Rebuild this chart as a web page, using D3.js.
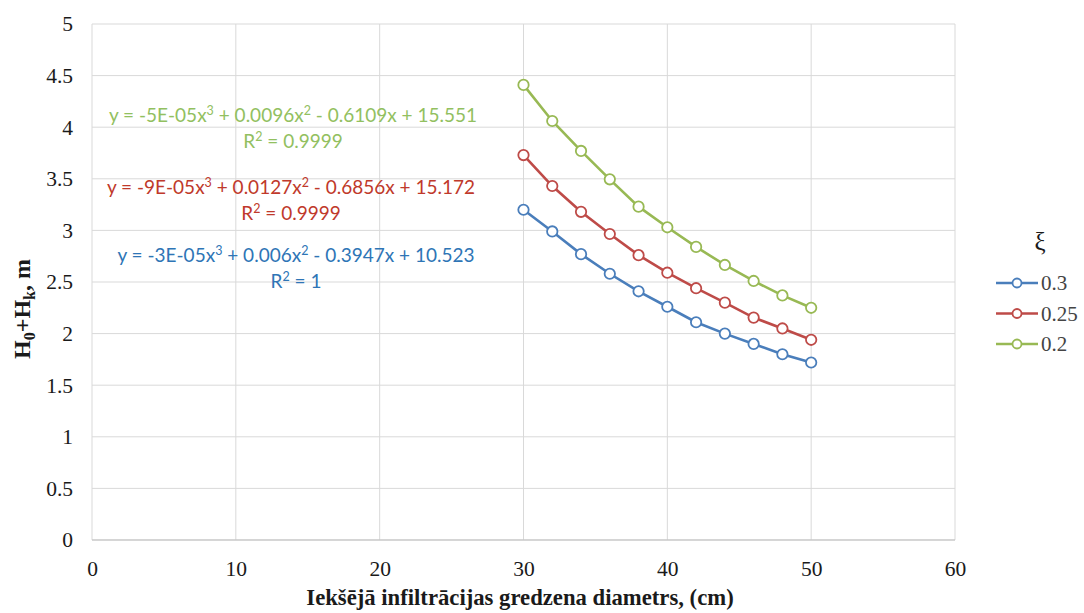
<!DOCTYPE html>
<html><head><meta charset="utf-8">
<script src="https://cdn.jsdelivr.net/npm/d3@7"></script>
<style>body{margin:0;background:#fff}
.serif{font-family:"Liberation Serif","Times New Roman",serif}
.eq{font-family:Lato,"Open Sans",sans-serif}
</style>
</head><body>
<svg id="c" width="1084" height="613"></svg>
<script>
const xValues = [30,32,34,36,38,40,42,44,46,48,50];
const s03  = [3.20,2.99,2.77,2.58,2.41,2.26,2.11,2.00,1.90,1.80,1.72];
const s025 = [3.73,3.43,3.18,2.965,2.76,2.59,2.44,2.30,2.155,2.05,1.94];
const s02  = [4.41,4.06,3.77,3.495,3.23,3.03,2.84,2.665,2.51,2.37,2.25];
const seriesNames = ["0.3","0.25","0.2"];
const colors = ["#4A7EBB","#BE4B48","#98B954"];
const eqColors = ["#2E75B6","#C0392B","#92C060"];
// equation parts: [text, isSuperscript]
const equations = [
  [[["y = -3E-05x",0],["3",1],[" + 0.006x",0],["2",1],[" - 0.3947x + 10.523",0]], [["R",0],["2",1],[" = 1",0]]],
  [[["y = -9E-05x",0],["3",1],[" + 0.0127x",0],["2",1],[" - 0.6856x + 15.172",0]], [["R",0],["2",1],[" = 0.9999",0]]],
  [[["y = -5E-05x",0],["3",1],[" + 0.0096x",0],["2",1],[" - 0.6109x + 15.551",0]], [["R",0],["2",1],[" = 0.9999",0]]]
];
const xTicks = [0,10,20,30,40,50,60];
const yTicks = [0,0.5,1,1.5,2,2.5,3,3.5,4,4.5,5];
const allSeries = [s03,s025,s02];

const svg = d3.select("#c");
const L=92,R=955,T=24,B=540;
const x = d3.scaleLinear().domain([0,60]).range([L,R]);
const y = d3.scaleLinear().domain([0,5]).range([B,T]);

// grid
svg.append("g").selectAll("line").data(yTicks).join("line")
  .attr("x1",L).attr("x2",R).attr("y1",d=>y(d)).attr("y2",d=>y(d))
  .attr("stroke","#d9d9d9").attr("stroke-width",1);
svg.append("g").selectAll("line").data(xTicks).join("line")
  .attr("y1",T).attr("y2",B).attr("x1",d=>x(d)).attr("x2",d=>x(d))
  .attr("stroke","#d9d9d9").attr("stroke-width",1);
svg.append("line").attr("x1",L).attr("x2",R).attr("y1",B).attr("y2",B).attr("stroke","#bfbfbf");

// axes labels
const xa = svg.append("g").attr("transform",`translate(0,${B})`)
  .call(d3.axisBottom(x).tickValues(xTicks).tickSize(0).tickPadding(21));
const ya = svg.append("g").attr("transform",`translate(${L},0)`)
  .call(d3.axisLeft(y).tickValues(yTicks).tickSize(0).tickPadding(19).tickFormat(d3.format("")));
[xa,ya].forEach(a=>{
  a.select(".domain").remove();
  a.attr("font-family",null).attr("font-size",null);
  a.selectAll("text")
    .style("font-family","'Liberation Serif','Times New Roman',serif")
    .style("font-size","21.5px").attr("fill","#1a1a1a");
});

// lines
const line = d3.line().x((d,i)=>x(xValues[i])).y(d=>y(d));
allSeries.forEach((s,k)=>{
  svg.append("path").datum(s).attr("d",line).attr("fill","none")
    .attr("stroke",colors[k]).attr("stroke-width",2.6);
  svg.append("g").selectAll("circle").data(s).join("circle")
    .attr("cx",(d,i)=>x(xValues[i])).attr("cy",d=>y(d)).attr("r",5.2)
    .attr("fill","#fff").attr("stroke",colors[k]).attr("stroke-width",1.8);
});

// equations
const eqPos = [[296,256],[291,188],[293,116]];
function writeParts(t, parts){
  let up = false;
  parts.forEach(p=>{
    if(p[1]){ t.append("tspan").attr("dy",-7).style("font-size","12.5px").text(p[0]); up = true; }
    else {
      const ts = t.append("tspan").text(p[0]);
      if(up) ts.attr("dy",7);
      up = false;
    }
  });
}
equations.forEach((e,k)=>{
  const g = svg.append("g").attr("class","eq").style("font-size","19px")
    .attr("fill",eqColors[k]).attr("text-anchor","middle");
  writeParts(g.append("text").attr("x",eqPos[k][0]).attr("y",eqPos[k][1]+6), e[0]);
  writeParts(g.append("text").attr("x",eqPos[k][0]).attr("y",eqPos[k][1]+32), e[1]);
});

// axis titles
svg.append("text").attr("class","serif").attr("x",520).attr("y",605).attr("text-anchor","middle")
  .style("font-weight","bold").style("font-size","22.7px")
  .attr("fill","#1a1a1a").text("Iekšējā infiltrācijas gredzena diametrs, (cm)");
const yt = svg.append("text").attr("class","serif").attr("transform","translate(30,309) rotate(-90)").attr("text-anchor","middle")
  .style("font-weight","bold").style("font-size","24px").attr("fill","#1a1a1a");
yt.append("tspan").text("H");
yt.append("tspan").style("font-size","16px").attr("dy",5).text("0");
yt.append("tspan").attr("dy",-5).text("+H");
yt.append("tspan").style("font-size","16px").attr("dy",5).text("k");
yt.append("tspan").attr("dy",-5).text(", m");

// legend
svg.append("text").attr("class","serif").attr("x",1040).attr("y",250).attr("text-anchor","middle")
  .style("font-size","25px").attr("fill","#1a1a1a").text("ξ");
seriesNames.forEach((n,k)=>{
  const yy = 283 + k*30.5;
  svg.append("line").attr("x1",996).attr("x2",1038).attr("y1",yy).attr("y2",yy)
    .attr("stroke",colors[k]).attr("stroke-width",2.6);
  svg.append("circle").attr("cx",1017).attr("cy",yy).attr("r",4.5).attr("fill","#fff")
    .attr("stroke",colors[k]).attr("stroke-width",1.8);
  svg.append("text").attr("class","serif").attr("x",1041).attr("y",yy+7)
    .style("font-size","21px").attr("fill","#444").text(n);
});
</script>
</body></html>
